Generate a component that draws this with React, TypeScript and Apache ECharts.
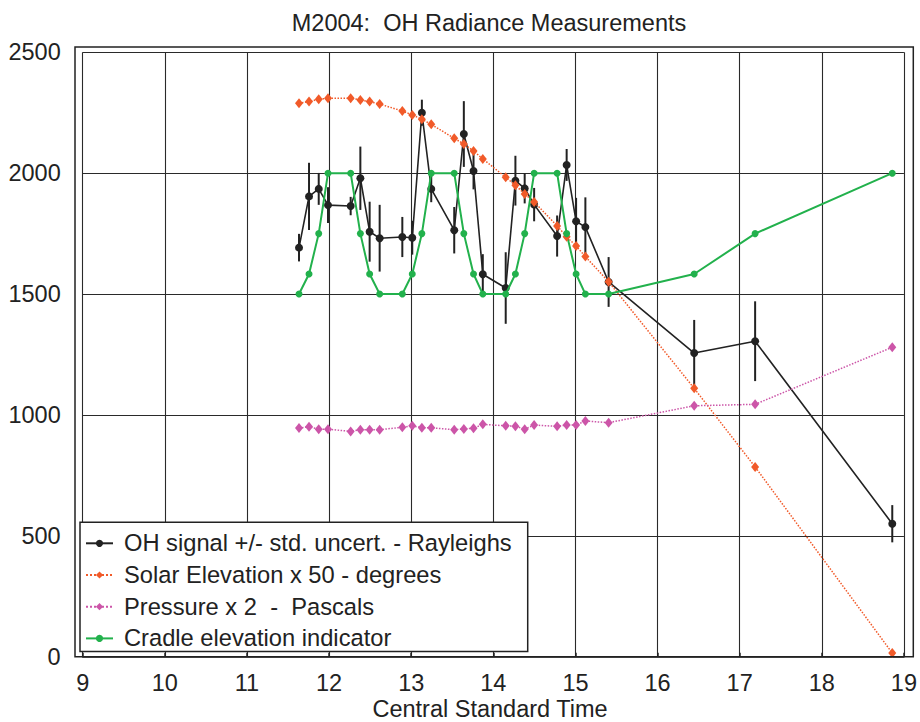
import React, { useEffect, useRef } from "react";
import * as echarts from "echarts";

const FONT = "'Liberation Sans', Arial, Helvetica, sans-serif";

// Central Standard Time (hours) of each measurement
const times = [
  11.634, 11.756, 11.874, 11.987, 12.263, 12.381, 12.494, 12.616, 12.892, 13.013,
  13.13, 13.244, 13.524, 13.641, 13.759, 13.872, 14.151, 14.269, 14.382, 14.497,
  14.777, 14.893, 15.008, 15.121, 15.404, 16.446, 17.188, 18.858,
];

// OH signal (Rayleighs) and its standard uncertainty
const ohSignal = [
  1692, 1904, 1935, 1868, 1864, 1979, 1758, 1731, 1736, 1733,
  2250, 1935, 1764, 2162, 2009, 1582, 1525, 1969, 1937, 1870,
  1740, 2034, 1801, 1777, 1550, 1256, 1305, 550,
];
const ohUncert = [
  57, 139, 66, 74, 38, 131, 124, 138, 83, 70,
  54, 55, 96, 136, 76, 83, 148, 103, 62, 69,
  85, 66, 97, 123, 103, 137, 165, 77,
];

// Solar elevation x 50 (degrees)
const solarElev = [
  2289, 2296, 2306, 2310, 2310, 2303, 2296, 2286, 2257, 2241,
  2223, 2202, 2144, 2121, 2092, 2059, 1983, 1950, 1914, 1881,
  1782, 1737, 1699, 1655, 1551, 1110, 785, 15,
];

// Pressure x 2 (Pascals)
const pressure = [
  946, 951, 941, 941, 932, 939, 939, 939, 949, 955,
  947, 947, 939, 942, 945, 961, 955, 953, 941, 958,
  953, 958, 958, 975, 968, 1038, 1044, 1280,
];

// Cradle elevation indicator
const cradle = [
  1500, 1583, 1750, 2000, 2000, 1750, 1583, 1500, 1500, 1583,
  1750, 2000, 2000, 1750, 1583, 1500, 1500, 1583, 1750, 2000,
  2000, 1750, 1583, 1500, 1500, 1583, 1750, 2000,
];

const seriesNames = [
  "OH signal +/- std. uncert. - Rayleighs",
  "Solar Elevation x 50 - degrees",
  "Pressure x 2  -  Pascals",
  "Cradle elevation indicator",
];

const titleText = "M2004:  OH Radiance Measurements";
const xAxisTitle = "Central Standard Time";

const BLACK = "#222222";
const ORANGE = "#f15a29";
const PINK = "#cc55a8";
const GREEN = "#22b14c";

export default function App() {
  const ref = useRef<HTMLDivElement>(null);

  useEffect(() => {
    document.body.style.margin = "0";
    const chart = echarts.init(ref.current!, undefined, { renderer: "svg" });

    const pairs = (vals: number[]) => times.map((t, i) => [t, vals[i]]);
    const errData = times.map((t, i) => [t, ohSignal[i] - ohUncert[i], ohSignal[i] + ohUncert[i]]);

    chart.setOption({
      animation: false,
      backgroundColor: "#ffffff",
      textStyle: { fontFamily: FONT },
      grid: { left: 82.7, right: 15, top: 52.3, bottom: 65.3, containLabel: false },
      graphic: [
        {
          type: "rect",
          z: 100,
          shape: { x: 75, y: 47, width: 838.3, height: 609.7 },
          style: { fill: "none", stroke: BLACK, lineWidth: 1.5 },
          silent: true,
        },
        {
          type: "text",
          x: 489,
          y: 23,
          style: {
            text: titleText,
            fontSize: 23.5,
            fontFamily: FONT,
            fill: BLACK,
            textAlign: "center",
            textVerticalAlign: "middle",
          },
        },
        {
          type: "text",
          x: 490,
          y: 708.5,
          style: {
            text: xAxisTitle,
            fontSize: 23.5,
            fontFamily: FONT,
            fill: BLACK,
            textAlign: "center",
            textVerticalAlign: "middle",
          },
        },
      ],
      legend: {
        orient: "vertical",
        left: 80,
        top: 522.3,
        padding: [9, 16, 1, 5],
        itemWidth: 27,
        itemHeight: 9,
        itemGap: 7.7,
        backgroundColor: "#ffffff",
        borderColor: BLACK,
        borderWidth: 1.5,
        borderRadius: 0,
        z: 20,
        selectedMode: false,
        textStyle: {
          fontSize: 23.7,
          fontFamily: FONT,
          color: BLACK,
          lineHeight: 24,
          padding: [0, 0, 0, 6],
        },
        data: seriesNames,
      },
      xAxis: {
        type: "value",
        min: 9,
        max: 19,
        interval: 1,
        axisLine: { show: true, onZero: false, lineStyle: { color: BLACK, width: 1.5 } },
        axisTick: { show: true, inside: true, length: 4, lineStyle: { color: BLACK, width: 1.5 } },
        axisLabel: { fontSize: 23.5, color: BLACK, margin: 14, fontFamily: FONT },
        splitLine: { show: true, lineStyle: { color: "#2a2a2a", width: 1.1 } },
      },
      yAxis: {
        type: "value",
        min: 0,
        max: 2500,
        interval: 500,
        axisLine: { show: false },
        axisTick: { show: false },
        axisLabel: {
          fontSize: 23.5,
          color: BLACK,
          margin: 22,
          fontFamily: FONT,
          formatter: (v: number) => String(v),
        },
        splitLine: { show: true, lineStyle: { color: "#2a2a2a", width: 1.1 } },
      },
      series: [
        {
          type: "custom",
          name: "err",
          data: errData,
          z: 3,
          renderItem: (params: any, api: any) => {
            const x = api.value(0);
            const lo = api.coord([x, api.value(1)]);
            const hi = api.coord([x, api.value(2)]);
            return {
              type: "line",
              shape: { x1: lo[0], y1: lo[1], x2: hi[0], y2: hi[1] },
              style: { stroke: BLACK, lineWidth: 2 },
            };
          },
          encode: { x: 0, y: [1, 2] },
          silent: true,
        },
        {
          type: "line",
          name: seriesNames[0],
          data: pairs(ohSignal),
          z: 4,
          symbol: "circle",
          symbolSize: 8,
          showAllSymbol: true,
          lineStyle: { color: BLACK, width: 1.6 },
          itemStyle: { color: BLACK },
        },
        {
          type: "line",
          name: seriesNames[1],
          data: pairs(solarElev),
          z: 5,
          symbol: "diamond",
          symbolSize: [8, 10],
          showAllSymbol: true,
          lineStyle: { color: ORANGE, width: 1.5, type: "dotted" },
          itemStyle: { color: ORANGE },
        },
        {
          type: "line",
          name: seriesNames[2],
          data: pairs(pressure),
          z: 5,
          symbol: "diamond",
          symbolSize: [8, 10],
          showAllSymbol: true,
          lineStyle: { color: PINK, width: 1.5, type: "dotted" },
          itemStyle: { color: PINK },
        },
        {
          type: "line",
          name: seriesNames[3],
          data: pairs(cradle),
          z: 5,
          symbol: "circle",
          symbolSize: 7,
          showAllSymbol: true,
          lineStyle: { color: GREEN, width: 2 },
          itemStyle: { color: GREEN },
        },
      ],
    });

    return () => chart.dispose();
  }, []);

  return (
    <div
      ref={ref}
      style={{ position: "absolute", left: 0, top: 0, width: 920, height: 722 }}
    />
  );
}
